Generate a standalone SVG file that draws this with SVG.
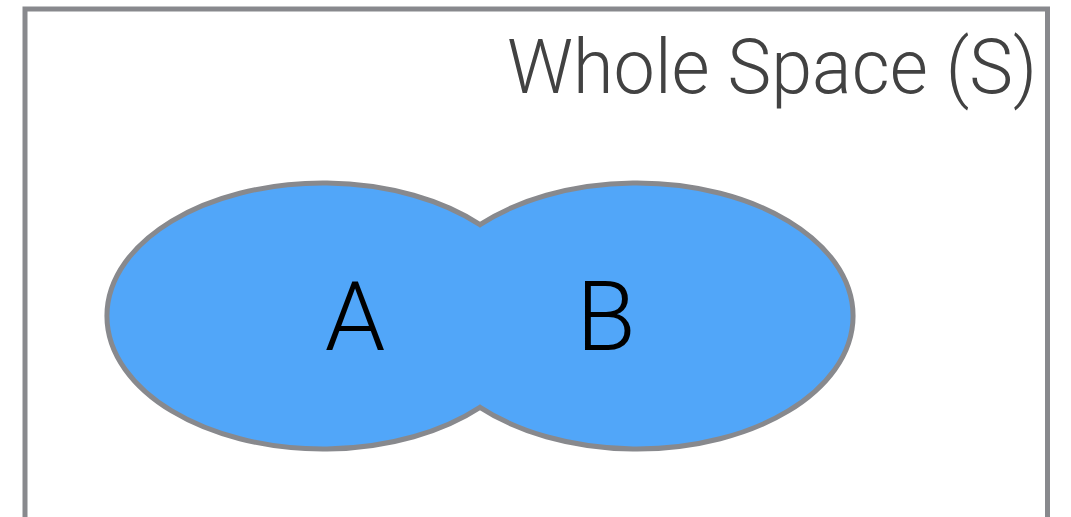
<svg xmlns="http://www.w3.org/2000/svg" width="1071" height="517" viewBox="0 0 1071 517">
<style>
.frame{fill:#ffffff;stroke:#88898d;stroke-width:5}
.set{fill:#51a6f9;stroke:#88898d;stroke-width:5;stroke-linejoin:miter}
.title{font-family:Roboto,"Liberation Sans",Arial,sans-serif;font-weight:300;font-size:76px;fill:#424242}
.lbl{font-family:Roboto,"Liberation Sans",Arial,sans-serif;font-weight:300;font-size:97px;fill:#000000;text-anchor:middle}
</style>
<rect width="1071" height="517" fill="#ffffff"/>
<g id="space">
<rect class="frame" x="25" y="9" width="1022.5" height="600"/>
<text class="title" x="1037" y="93" text-anchor="end" textLength="530" lengthAdjust="spacingAndGlyphs">Whole Space (S)</text>
</g>
<g id="union-AB">
<path class="set" d="M480,224.7 A216,133 0 1 0 480,407.3 A216,133 0 1 0 480,224.7 Z"/>
</g>
<g id="set-A">
<text class="lbl" x="355" y="350">A</text>
</g>
<g id="set-B">
<text class="lbl" x="606" y="350">B</text>
</g>
<g id="connectors"></g>
</svg>
